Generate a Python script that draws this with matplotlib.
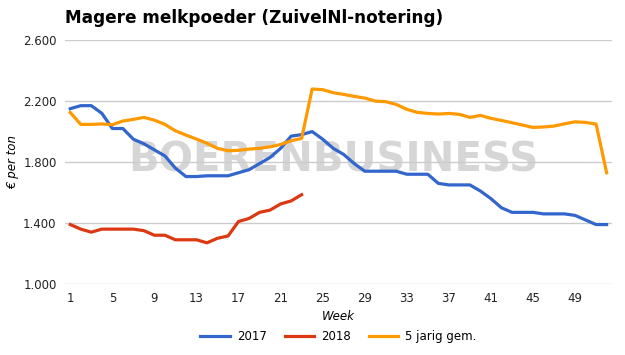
import matplotlib.pyplot as plt

weeks = list(range(1, 53))

prijs_2017 = [2150, 2170, 2170, 2120, 2020, 2020, 1950, 1920, 1880, 1840,
              1760, 1705, 1705, 1710, 1710, 1710, 1730, 1750, 1790, 1830,
              1890, 1970, 1980, 2000, 1950, 1890, 1850, 1790, 1740, 1740,
              1740, 1740, 1720, 1720, 1720, 1660, 1650, 1650, 1650, 1610,
              1560, 1500, 1470, 1470, 1470, 1460, 1460, 1460, 1450, 1420,
              1390, 1390]

prijs_2018 = [1390, 1360, 1340, 1360, 1360, 1360, 1360, 1350, 1320, 1320,
              1290, 1290, 1290, 1270, 1300, 1315, 1410, 1430, 1470, 1485,
              1525, 1545, 1586]

gem_5jaar = [2125, 2047, 2047, 2050, 2045, 2069, 2080, 2093, 2075, 2047,
             2005, 1977, 1951, 1923, 1890, 1874, 1877, 1885, 1890, 1900,
             1915, 1940, 1955, 2279, 2275, 2255, 2244, 2231, 2220, 2200,
             2196, 2178, 2146, 2126, 2119, 2115, 2119, 2113, 2093, 2106,
             2087, 2073, 2058, 2043, 2027, 2030, 2036, 2051, 2064, 2060,
             2049, 1730]

yticks = [1000, 1400, 1800, 2200, 2600]
xticks = list(range(1, 53, 4))

fig = plt.figure(figsize=(6.25, 3.55), dpi=100)
ax = fig.add_axes([0.104, 0.2, 0.875, 0.687])

# watermark
ax.text(0.49, 0.505, "BOERENBUSINESS", transform=ax.transAxes,
        ha="center", va="center", fontsize=29, fontweight="bold",
        color="#d6d6d6", zorder=0)

ax.plot(weeks[:len(prijs_2017)], prijs_2017, color="#3366cc", lw=2.3,
        label="2017", zorder=3)
ax.plot(weeks[:len(prijs_2018)], prijs_2018, color="#dc3912", lw=2.3,
        label="2018", zorder=3)
ax.plot(weeks[:len(gem_5jaar)], gem_5jaar, color="#ff9900", lw=2.3,
        label="5 jarig gem.", zorder=3)

ax.set_xlim(0.5, 52.5)
ax.set_ylim(1000, 2600)
ax.set_yticks(yticks)
ax.set_yticklabels([f"{v:,}".replace(",", ".") for v in yticks])
ax.set_xticks(xticks)
ax.grid(axis="y", color="#cccccc", lw=1, zorder=1)
ax.set_axisbelow(True)
ax.tick_params(length=0, labelsize=8.5, colors="#222222", pad=6)
for s in ax.spines.values():
    s.set_visible(False)

ax.set_xlabel("Week", style="italic", fontsize=8.5, labelpad=3)
ax.set_ylabel("€ per ton", style="italic", fontsize=8.5, labelpad=3)

fig.text(0.104, 0.949, "Magere melkpoeder (ZuivelNl-notering)",
         fontsize=12.2, fontweight="bold", ha="left", va="center")

ax.legend(loc="center", bbox_to_anchor=(0.5, -0.215), ncol=3,
          frameon=False, fontsize=8.5, handlelength=2.5, columnspacing=1.5,
          handletextpad=0.6)

fig.savefig("out.png", dpi=100)
